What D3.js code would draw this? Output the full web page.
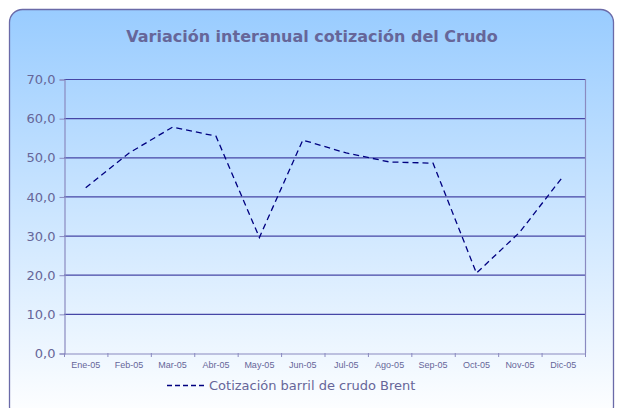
<!DOCTYPE html>
<html><head><meta charset="utf-8">
<script src="https://cdn.jsdelivr.net/npm/d3@7"></script>
<style>body{margin:0;background:#fff}svg{display:block}</style>
</head><body>
<script>
const categories = ["Ene-05","Feb-05","Mar-05","Abr-05","May-05","Jun-05","Jul-05","Ago-05","Sep-05","Oct-05","Nov-05","Dic-05"];
const values = [42.2, 51.1, 57.7, 55.4, 29.5, 54.4, 51.1, 48.8, 48.5, 20.4, 30.9, 45.2];
const yTicks = [0,10,20,30,40,50,60,70];
const title = "Variación interanual cotización del Crudo";
const seriesName = "Cotización barril de crudo Brent";

const W = 620, H = 408;
const svg = d3.select("body").append("svg").attr("width", W).attr("height", H);
const defs = svg.append("defs");
const g = defs.append("linearGradient").attr("id","bg").attr("x1",0).attr("y1",0).attr("x2",0).attr("y2",1);
g.append("stop").attr("offset","0%").attr("stop-color","#99ccff");
g.append("stop").attr("offset","100%").attr("stop-color","#ffffff");

svg.append("rect").attr("x",9.5).attr("y",9.5).attr("width",604).attr("height",410)
  .attr("rx",13).attr("fill","url(#bg)").attr("stroke","#6a6aa8").attr("stroke-width",1.3);

svg.append("text").attr("x",312).attr("y",42).attr("text-anchor","middle")
  .attr("font-family","DejaVu Sans, Verdana, sans-serif").attr("font-weight","bold")
  .attr("font-size",16).attr("fill","#666699").text(title);

const L = 64, R = 585, T = 79, B = 353;
const x = d3.scaleBand().domain(categories).range([L,R]);
const y = d3.scaleLinear().domain([0,70]).range([B,T]);

// gridlines
svg.append("g").selectAll("line").data(yTicks.filter(d=>d>0)).join("line")
  .attr("x1",L).attr("x2",R).attr("y1",d=>y(d)+0.5).attr("y2",d=>y(d)+0.5)
  .attr("stroke","#4646a6").attr("stroke-width",1.2);
// right border
svg.append("line").attr("x1",R+0.5).attr("x2",R+0.5).attr("y1",T).attr("y2",B).attr("stroke","#8a8ac0").attr("stroke-width",1.2);

// y axis
const ya = svg.append("g").attr("transform",`translate(${L+0.5},0.5)`)
  .call(d3.axisLeft(y).tickValues(yTicks).tickSize(5).tickFormat(d=>d3.format(".1f")(d).replace(".",",")));
ya.select(".domain").attr("stroke","#8a8ac0").attr("stroke-width",1.2);
ya.selectAll(".tick line").attr("stroke","#8a8ac0");
ya.selectAll("text").attr("font-family","DejaVu Sans, Verdana, sans-serif").attr("font-size",13).attr("fill","#666699").attr("dx","-1px");

// x axis
const xa = svg.append("g").attr("transform",`translate(0,${B+0.5})`)
  .call(d3.axisBottom(x).tickSize(0).tickSizeOuter(0));
xa.select(".domain").attr("stroke","#8a8ac0").attr("stroke-width",1.2);
xa.selectAll(".tick line").remove();
xa.selectAll("text").attr("font-family","Liberation Sans, Arial, sans-serif").attr("font-size",9).attr("fill","#666699").attr("dy","1.3em");
svg.append("g").selectAll("line").data(categories.concat(["end"])).join("line")
  .attr("x1",(d,i)=>L+i*x.bandwidth()+0.5).attr("x2",(d,i)=>L+i*x.bandwidth()+0.5)
  .attr("y1",B).attr("y2",B+4).attr("stroke","#8a8ac0");

// line
const line = d3.line().x((d,i)=>x(categories[i])+x.bandwidth()/2).y(d=>y(d));
svg.append("path").datum(values).attr("d",line).attr("fill","none")
  .attr("stroke","#000080").attr("stroke-width",1.3).attr("stroke-dasharray","6,4");

// legend
svg.append("line").attr("x1",167).attr("x2",205).attr("y1",385.5).attr("y2",385.5)
  .attr("stroke","#000080").attr("stroke-width",1.3).attr("stroke-dasharray","5,3");
svg.append("text").attr("x",209).attr("y",390)
  .attr("font-family","DejaVu Sans, Verdana, sans-serif").attr("font-size",13).attr("fill","#666699").text(seriesName);
</script>
</body></html>
